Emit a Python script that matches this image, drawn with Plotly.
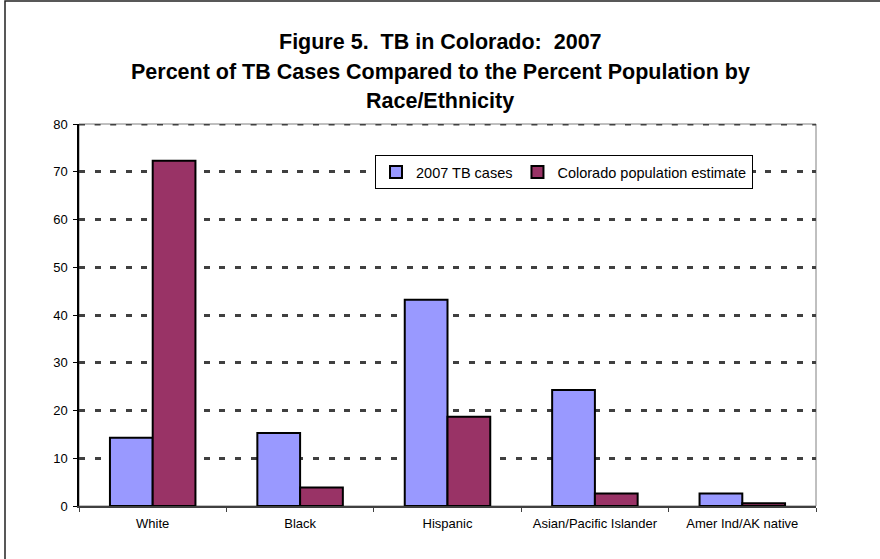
import plotly.graph_objects as go

categories = ["White", "Black", "Hispanic", "Asian/Pacific Islander", "Amer Ind/AK native"]
tb_cases = [14.3, 15.3, 43.2, 24.3, 2.6]
population = [72.3, 3.9, 18.7, 2.6, 0.6]
series_names = ["2007 TB cases", "Colorado population estimate"]
title_lines = [
    "Figure 5.  TB in Colorado:  2007",
    "Percent of TB Cases Compared to the Percent Population by",
    "Race/Ethnicity",
]

W, H = 880, 559
L, R, T, B = 79, 64, 124, 53
pw, ph = W - L - R, H - T - B

def px_x(x):
    return (x - L) / pw

def px_y(y):
    return (H - B - y) / ph

FONT = "Arial, 'Liberation Sans', sans-serif"
GRID_DASH = "6px,9.6px"

fig = go.Figure()
fig.add_trace(go.Bar(x=categories, y=tb_cases, name=series_names[0],
                     marker=dict(color="#9999FF", line=dict(color="black", width=2))))
fig.add_trace(go.Bar(x=categories, y=population, name=series_names[1],
                     marker=dict(color="#993366", line=dict(color="black", width=2))))

annotations = []
for line, ypix in zip(title_lines, [42, 72, 101]):
    annotations.append(dict(text="<b>" + line + "</b>", x=px_x(440), y=px_y(ypix),
                            xref="paper", yref="paper", xanchor="center", yanchor="middle",
                            showarrow=False, font=dict(family=FONT, size=21.5, color="black")))

shapes = [
    # outer chart border
    dict(type="rect", xref="paper", yref="paper", x0=px_x(5), x1=px_x(900), y0=px_y(600), y1=px_y(1),
         line=dict(color="#222222", width=1.5), fillcolor="rgba(0,0,0,0)", layer="below"),
    # plot area top/right border
    dict(type="rect", xref="paper", yref="paper", x0=0, x1=1, y0=0, y1=1,
         line=dict(color="#808080", width=1), fillcolor="rgba(0,0,0,0)", layer="below"),
    # top gridline at 80 (plotly clips gridlines at range ends)
    dict(type="line", xref="paper", yref="y", x0=0, x1=1, y0=80, y1=80,
         line=dict(color="#404040", width=3, dash=GRID_DASH), layer="below"),
]

fig.update_layout(
    width=W, height=H,
    margin=dict(l=L, r=R, t=T, b=B, pad=0),
    paper_bgcolor="white", plot_bgcolor="white",
    barmode="group", bargap=0.42, bargroupgap=0,
    font=dict(family=FONT, size=13, color="black"),
    annotations=annotations,
    shapes=shapes,
    legend=dict(orientation="h", x=px_x(564), y=px_y(155), xanchor="center", yanchor="top",
                bgcolor="white", bordercolor="black", borderwidth=1,
                font=dict(family=FONT, size=14.5, color="black"),
                itemwidth=30, tracegroupgap=0),
    showlegend=True,
)
fig.update_xaxes(type="category", showline=True, linecolor="#404040", linewidth=1.5,
                 ticks="outside", ticklen=4, tickcolor="#404040", tickson="boundaries",
                 showgrid=False, tickfont=dict(size=13), ticklabelstandoff=5)
fig.update_yaxes(range=[0, 80], dtick=10, showline=True, linecolor="black", linewidth=1.5,
                 ticks="outside", ticklen=4, tickcolor="black",
                 showgrid=True, gridcolor="#404040", gridwidth=3, griddash=GRID_DASH,
                 zeroline=False, tickfont=dict(size=13), ticklabelstandoff=3)

fig.write_html("out.html")
